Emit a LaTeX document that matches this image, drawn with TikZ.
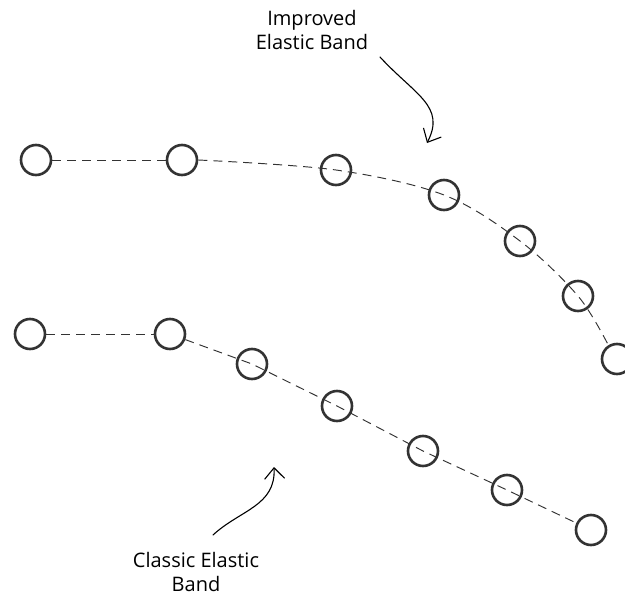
\documentclass[tikz,border=0pt]{standalone}
\usepackage{fontspec}
\setmainfont{Open Sans}
\usetikzlibrary{arrows.meta}
\definecolor{ink}{HTML}{333333}
\tikzset{
  bead/.style={circle, draw=ink, line width=2.6pt, minimum size=30pt, inner sep=0pt},
  endbead/.style={bead, fill=white},
  band/.style={draw=ink, line width=0.95pt, dash pattern=on 9pt off 6pt},
  note/.style={font=\fontsize{20}{23.5}\selectfont, align=center, text=black,
    inner sep=0pt, anchor=base},
  pointer/.style={draw=black, line width=1.1pt, line cap=round,
    -{Straight Barb[length=11pt,width=20pt,line width=1.1pt]}}
}
\begin{document}
\begin{tikzpicture}[x=1pt,y=-1pt]
  \useasboundingbox (0,0) rectangle (625,595);

  % improved band: beads
  \node[endbead] (t1) at (36,160) {};
  \node[endbead] (t2) at (182,160) {};
  \node[bead]    (t3) at (336,170) {};
  \node[bead]    (t4) at (444,195) {};
  \node[bead]    (t5) at (520,241) {};
  \node[bead]    (t6) at (578,296) {};
  \node[endbead] (t7) at (617,359) {};

  % classic band: beads
  \node[endbead] (b1) at (30,334) {};
  \node[endbead] (b2) at (170,334) {};
  \node[bead]    (b3) at (252,364) {};
  \node[bead]    (b4) at (337,406) {};
  \node[bead]    (b5) at (423,451) {};
  \node[bead]    (b6) at (507,490) {};
  \node[endbead] (b7) at (591,530) {};

  % improved band: smooth curve
  \draw[band] (t1) -- (t2);
  \draw[band] plot[smooth, tension=0.55] coordinates
    {(t2.east) (t3.center) (t4.center) (t5.center) (t6.center) (t7.122)};

  % classic band: straight pieces
  \draw[band] (b1) -- (b2);
  \draw[band] (b2) -- (b3.center) -- (b4.center) -- (b5.center) -- (b6.center) -- (b7);

  % labels (anchored at the baseline of their last line)
  \node[note] (lblTop) at (312,49) {Improved\\Elastic Band};
  \node[note] (lblBot) at (196,591) {Classic Elastic\\Band};

  % pointers
  \coordinate (topFrom) at (380,57);
  \coordinate (topTip)  at (427,143);
  \coordinate (botFrom) at (213,535);
  \coordinate (botTip)  at (274,467);
  \draw[pointer] (topFrom) .. controls (415,95) and (446,106) .. (topTip);
  \draw[pointer] (botFrom) .. controls (240,510) and (276,506) .. (botTip);
\end{tikzpicture}
\end{document}
